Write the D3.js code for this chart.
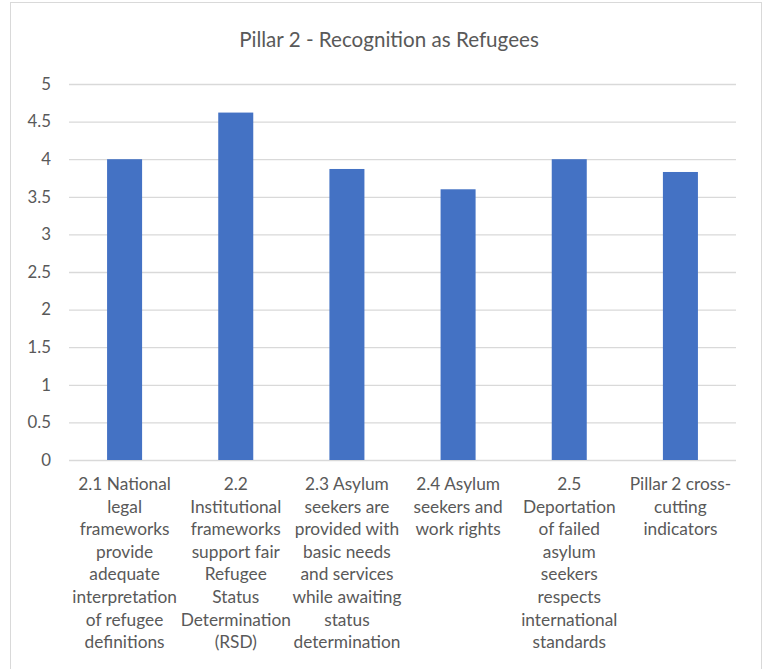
<!DOCTYPE html>
<html><head><meta charset="utf-8">
<script src="https://cdn.jsdelivr.net/npm/d3@7"></script>
<style>body{margin:0;background:#fff}svg{display:block}text{font-family:Lato, "Open Sans", sans-serif}</style>
</head><body>
<svg id="c" width="772" height="669"></svg>
<script>
const title = "Pillar 2 - Recognition as Refugees";
const categories = [
  ["2.1 National","legal","frameworks","provide","adequate","interpretation","of refugee","definitions"],
  ["2.2","Institutional","frameworks","support fair","Refugee","Status","Determination","(RSD)"],
  ["2.3 Asylum","seekers are","provided with","basic needs","and services","while awaiting","status","determination"],
  ["2.4 Asylum","seekers and","work rights"],
  ["2.5","Deportation","of failed","asylum","seekers","respects","international","standards"],
  ["Pillar 2 cross-","cutting","indicators"]
];
const values = [4.0, 4.62, 3.87, 3.6, 4.0, 3.83];
const yTicks = [0, 0.5, 1, 1.5, 2, 2.5, 3, 3.5, 4, 4.5, 5];

const svg = d3.select("#c");
svg.append("rect").attr("x",10.5).attr("y",2.5).attr("width",751).attr("height",670)
  .attr("fill","#fff").attr("stroke","#d9d9d9");

const pLeft = 69, pRight = 736, pTop = 84, pBottom = 460;
const x = d3.scaleBand().domain(d3.range(categories.length)).range([pLeft, pRight]).padding(0);
const y = d3.scaleLinear().domain([0, 5]).range([pBottom, pTop]);

svg.append("text").attr("x", 389).attr("y", 47).attr("text-anchor","middle")
  .attr("font-size", 20.6).attr("fill","#595959").text(title);

const yAxis = svg.append("g").attr("transform", `translate(${pLeft},0)`)
  .call(d3.axisLeft(y).tickValues(yTicks).tickSize(-(pRight-pLeft)).tickPadding(18).tickFormat(d3.format("~g")));
yAxis.select(".domain").remove();
yAxis.selectAll(".tick line").attr("stroke","#d9d9d9").attr("stroke-width",1.3);
yAxis.selectAll(".tick text").attr("font-size",16.8).attr("fill","#595959").attr("font-family","Lato, sans-serif");

const bw = x.bandwidth()*0.315;
svg.append("g").selectAll("rect").data(values).join("rect")
  .attr("x",(d,i)=>x(i)+x.bandwidth()/2-bw/2).attr("width",bw)
  .attr("y",d=>y(d)).attr("height",d=>y(0)-y(d)).attr("fill","#4472c4");

const lab = svg.append("g");
categories.forEach((lines,i)=>{
  const t = lab.append("text").attr("x", x(i)+x.bandwidth()/2).attr("y", 490)
    .attr("text-anchor","middle").attr("font-size",17.3).attr("fill","#595959");
  lines.forEach((l,j)=>t.append("tspan").attr("x", x(i)+x.bandwidth()/2).attr("dy", j===0?0:22.6).text(l));
});
</script>
</body></html>
